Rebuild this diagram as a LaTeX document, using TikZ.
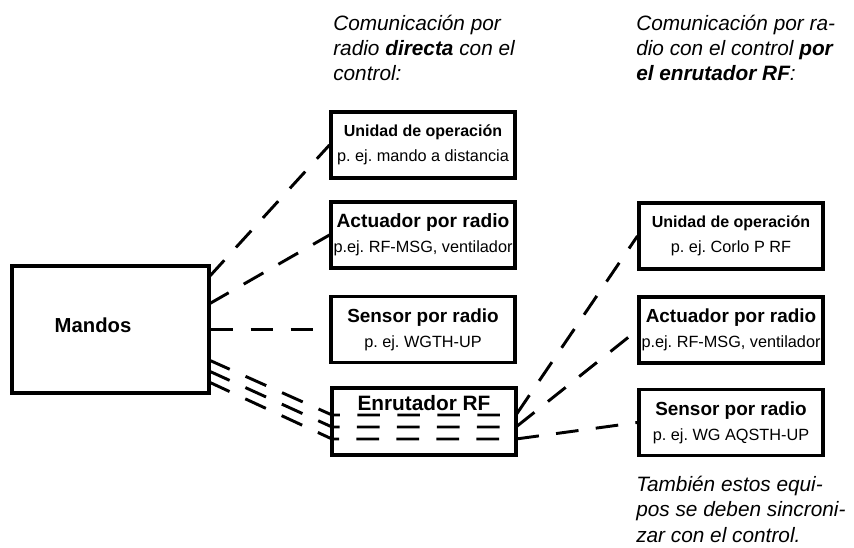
\documentclass[tikz,border=0pt]{standalone}
\usepackage{fontspec}
\setmainfont{Liberation Sans}
\frenchspacing

\begin{document}
\begin{tikzpicture}[x=0.75pt, y=-0.75pt,
	box/.style={draw, line width=2.3pt, minimum width=138pt, minimum height=49.5pt, inner sep=0pt, align=center, font=\fontsize{12.2}{19}\selectfont},
	radio/.style={line width=2.2pt, dash pattern=on 17pt off 13pt},
	note/.style={anchor=north west, inner sep=0pt, align=left, font=\itshape\fontsize{15.6}{18.6}\selectfont}]
	\useasboundingbox (0,0) rectangle (854,547);
	% left side
	\node[box, minimum width=147.75pt, minimum height=95.25pt] (mandos) at (110.5,329.5) {};
	\node[font=\bfseries\fontsize{15.2}{19}\selectfont] (mandostext) at (93,325) {Mandos};
	\node[box] (unidad) at (423,145) {{\bfseries\fontsize{12}{19}\selectfont Unidad de operación}\\p. ej. mando a distancia};
	\node[box] (actuador) at (423,235) {{\bfseries\fontsize{14.4}{19}\selectfont Actuador por radio}\\p.ej. RF-MSG, ventilador};
	\node[box] (sensor) at (423,329.5) {{\bfseries\fontsize{14.2}{19}\selectfont Sensor por radio}\\p. ej. WGTH-UP};
	\node[box, minimum height=50.25pt] (router) at (424,421.5) {};
	\node[font=\bfseries\fontsize{15.6}{19}\selectfont] (routertext) at (424,403) {Enrutador RF};
	% right side
	\node[box] (unidadrf) at (731,236) {{\bfseries\fontsize{12}{19}\selectfont Unidad de operación}\\p. ej. Corlo P RF};
	\node[box] (actuadorrf) at (731,330) {{\bfseries\fontsize{14.2}{19}\selectfont Actuador por radio}\\p.ej. RF-MSG, ventilador};
	\node[box] (sensorrf) at (731,422.5) {{\bfseries\fontsize{14.2}{19}\selectfont Sensor por radio}\\p. ej. WG AQSTH-UP};
	% texts
	\node[note] (direct) at (333,15) {Comunicación por\\radio \textbf{directa} con el\\control:};
	\node[note] (viarouter) at (636,15) {Comunicación por ra-\\dio con el control \textbf{por}\\\textbf{el enrutador RF}:};
	\node[note, font=\itshape\fontsize{15.6}{19}\selectfont] (sync) at (636,476) {También estos equi-\\pos se deben sincroni-\\zar con el control.};
	% points on the box edges
	\coordinate (m1) at (209,277);
	\coordinate (m2) at (209,304);
	\coordinate (m4) at (209,360);
	\coordinate (m5) at (209,371);
	\coordinate (m6) at (209,382);
	\coordinate (rl1) at (332,415);
	\coordinate (rl2) at (332,427);
	\coordinate (rl3) at (332,439);
	\coordinate (rr1) at (516,415);
	\coordinate (rr2) at (516,427);
	\coordinate (rr3) at (516,439);
	% direct links
	\draw[radio] (m1) -- (unidad.west);
	\draw[radio] (m2) -- (actuador.west);
	\draw[radio] (mandos.east) -- (sensor.west);
	% links through the router
	\draw[radio] (m4) -- (rl1) -- (rr1) -- (unidadrf.west);
	\draw[radio] (m5) -- (rl2) -- (rr2) -- (actuadorrf.west);
	\draw[radio] (m6) -- (rl3) -- (rr3) -- (sensorrf.west);
\end{tikzpicture}
\end{document}
